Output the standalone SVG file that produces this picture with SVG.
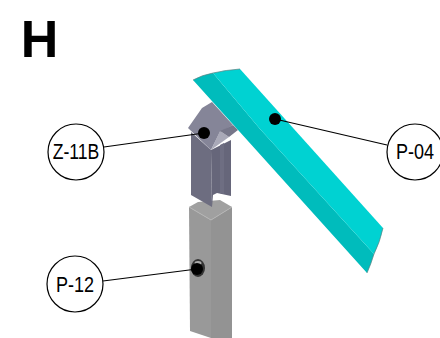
<svg xmlns="http://www.w3.org/2000/svg" width="440" height="338" viewBox="0 0 440 338">
<style>
.t{font-family:"Liberation Sans",Arial,sans-serif;fill:#000;text-anchor:middle}
.c{fill:#fff;stroke:#000;stroke-width:1.2}
.l{stroke:#000;stroke-width:1.2;fill:none}
.d{fill:#000}
</style>
<rect width="440" height="338" fill="#fff"/>
<g id="title"><text class="t" x="39.500" y="57" font-size="52" font-weight="bold">H</text></g>
<g id="part-post">
<polygon points="189,207 198,202 220,200 232,207 211,220" fill="#a0a0a0"/>
<polygon points="189,207 211,220 211,338 190,331" fill="#999"/>
<polygon points="211,220 232,207 232,338 211,338" fill="#939393"/>
<polyline points="189,207 211,220 232,207" fill="none" stroke="#b5b5b5" stroke-width="1"/>
<ellipse cx="198" cy="268" rx="7" ry="9" fill="#333"/>
<ellipse cx="198" cy="263" rx="3.500" ry="2" fill="#aaa"/>
</g>
<g id="part-bracket">
<polygon points="191,132 211,150 212,207 191,195" fill="#6d6d80"/>
<polygon points="211,150 231,140 231,196 217,193 213,195 212,207" fill="#66667a"/>
<polygon points="220,145 224,143 224,194 220,193" fill="#6e6e82"/>
<polygon points="188,128 202,108 212,102 233,125 220,132 211,150" fill="#858598"/>
<polygon points="211,150 220,131 229,137" fill="#a9a9b8"/>
<polygon points="220,131 233,125 238,130 229,137" fill="#77778a"/>
</g>
<g id="part-panel">
<path d="M193,80Q202,75 213,73L260,129L374,254Q371,264 367,273Z" fill="#00bcbc"/>
<path d="M213,73Q226,70 240,69L383,228Q380,242 374,254L260,129Z" fill="#00d2d2"/>
<path d="M193,80Q202,75 213,73Q226,70 240,69M383,228Q380,242 374,254Q371,264 367,273" fill="none" stroke="#5b7f80" stroke-width="0.700"/>
</g>
<g id="connectors">
<line class="l" x1="104" y1="147" x2="204" y2="133"/>
<line class="l" x1="275" y1="119" x2="387" y2="145"/>
<line class="l" x1="103" y1="281" x2="197" y2="269"/>
<circle class="d" cx="204" cy="133" r="6"/>
<circle class="d" cx="275" cy="119" r="6"/>
<circle class="d" cx="197" cy="269" r="6"/>
</g>
<g id="node-z11b"><circle class="c" cx="76" cy="152" r="28"/><text class="t" transform="translate(76 158.500) scale(.8 1)" font-size="22">Z-11B</text></g>
<g id="node-p04"><circle class="c" cx="415" cy="152" r="28"/><text class="t" transform="translate(415 158.500) scale(.82 1)" font-size="22">P-04</text></g>
<g id="node-p12"><circle class="c" cx="75" cy="284" r="28"/><text class="t" transform="translate(75 291.500) scale(.82 1)" font-size="22">P-12</text></g>
</svg>
